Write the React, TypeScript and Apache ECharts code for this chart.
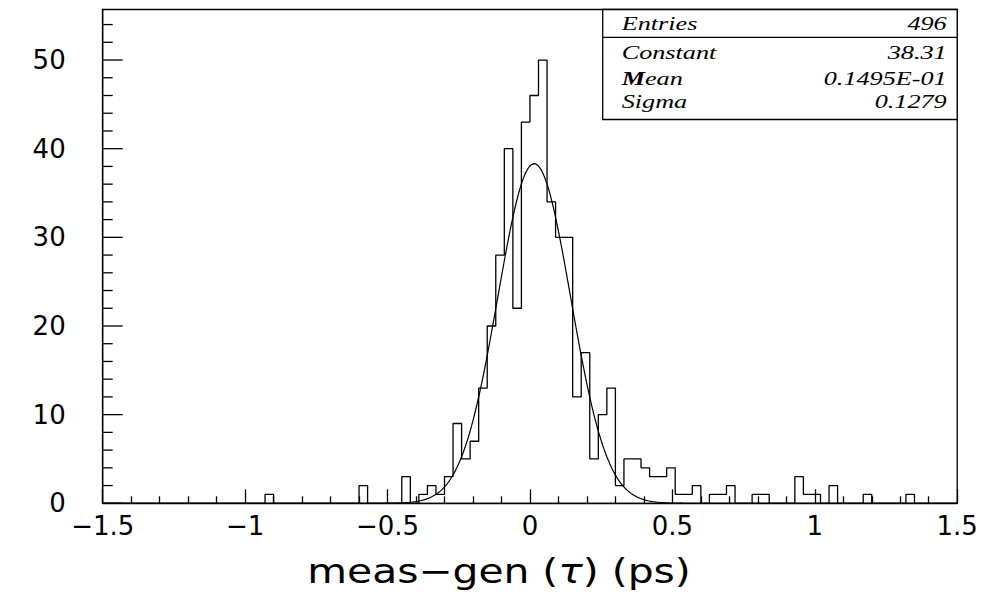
import React, { useEffect, useRef } from "react";
import * as echarts from "echarts";

// Histogram definition
const X_MIN = -1.5;
const X_MAX = 1.5;
const BIN_WIDTH = 0.03;
const X_INTERVAL = 0.5;
const Y_MIN = 0;
const Y_MAX = 55.7;
const Y_INTERVAL = 10;

// y-axis tick values (major ticks labelled, minor ticks unlabelled)
const Y_MAJOR_TICKS = [0, 10, 20, 30, 40, 50];
const Y_MINOR_TICKS = [2, 4, 6, 8, 12, 14, 16, 18, 22, 24, 26, 28, 32, 34, 36, 38, 42, 44, 46, 48, 52, 54];

// Bin contents (100 bins of 0.03 from -1.5 to 1.5)
const COUNTS: number[] = [
  0, 0, 0, 0, 0, 0, 0, 0, 0, 0,
  0, 0, 0, 0, 0, 0, 0, 0, 0, 1,
  0, 0, 0, 0, 0, 0, 0, 0, 0, 0,
  2, 0, 0, 0, 0, 3, 0, 1, 2, 1,
  3, 9, 5, 7, 13, 20, 28, 40, 22, 43,
  46, 50, 34, 30, 30, 12, 17, 5, 10, 13,
  2, 5, 5, 4, 3, 3, 4, 1, 1, 2,
  0, 1, 1, 2, 0, 0, 1, 1, 0, 0,
  0, 3, 1, 1, 0, 2, 0, 0, 0, 1,
  0, 0, 0, 0, 1, 0, 0, 0, 0, 0,
];

// Fit parameters (Gaussian)
const FIT_CONSTANT = 38.31;
const FIT_MEAN = 0.01495;
const FIT_SIGMA = 0.1279;

// Stats box
const STATS_LABELS = ["Entries", "Constant", "Mean", "Sigma"];
const STATS_VALUES = ["496", "38.31", "0.1495E-01", "0.1279"];

const X_TITLE = "meas\u2212gen (";
const X_TITLE_GREEK = "\u03c4";
const X_TITLE_END = ") (ps)";

export default function App() {
  const ref = useRef<HTMLDivElement>(null);

  useEffect(() => {
    if (!ref.current) return;
    const chart = echarts.init(ref.current, null, { renderer: "svg" });

    const histData: [number, number][] = COUNTS.map((c, i) => [
      +(X_MIN + i * BIN_WIDTH).toFixed(4),
      c,
    ]);
    histData.push([X_MAX, COUNTS[COUNTS.length - 1]]);

    const fitData: [number, number][] = [];
    for (let i = 0; i <= 600; i++) {
      const x = X_MIN + i * 0.005;
      const z = (x - FIT_MEAN) / FIT_SIGMA;
      fitData.push([x, FIT_CONSTANT * Math.exp(-0.5 * z * z)]);
    }

    const gridLeft = 102.7;
    const gridRight = 36.8;
    const gridTop = 9.5;
    const gridBottom = 95.7;
    const boxLeft = 602.7;
    const boxRight = 994 - gridRight;
    const boxTop = gridTop;
    const boxBottom = 119.5;
    const sepY = 37.3;
    const rowY = [24, 52.5, 79, 101.5];

    const textFont = {
      fontFamily: "Liberation Serif",
      fontStyle: "italic" as const,
      fontSize: 19,
    };
    const sx = 1.38;

    const statTexts: any[] = [];
    STATS_LABELS.forEach((lab, i) => {
      if (lab === "Mean") {
        statTexts.push({
          type: "text",
          id: "lab" + i,
          x: 621.7,
          y: rowY[i],
          scaleX: sx,
          z: 101,
          style: {
            text: "{b|M}{r|ean}",
            verticalAlign: "middle",
            align: "left",
            fill: "#000",
            ...textFont,
            rich: {
              b: { ...textFont, fontWeight: "bold", fill: "#000" },
              r: { ...textFont, fill: "#000" },
            },
          },
        });
      } else {
        statTexts.push({
          type: "text",
          id: "lab" + i,
          x: 621.7,
          y: rowY[i],
          scaleX: sx,
          z: 101,
          style: {
            text: lab,
            verticalAlign: "middle",
            align: "left",
            fill: "#000",
            ...textFont,
          },
        });
      }
      statTexts.push({
        type: "text",
        id: "val" + i,
        x: 946.7,
        y: rowY[i],
        scaleX: sx,
        z: 101,
        style: {
          text: STATS_VALUES[i],
          verticalAlign: "middle",
          align: "right",
          fill: "#000",
          ...textFont,
        },
      });
    });

    const titleFont = { fontFamily: "DejaVu Sans", fontSize: 34, fill: "#000" };

    const baseGraphic: any[] = [
      {
        type: "rect",
        id: "statsBox",
        z: 100,
        shape: { x: boxLeft, y: boxTop, width: boxRight - boxLeft, height: boxBottom - boxTop },
        style: { fill: "#fff", stroke: "#000", lineWidth: 1.3 },
      },
      {
        type: "line",
        id: "statsSep",
        z: 101,
        shape: { x1: boxLeft, y1: sepY, x2: boxRight, y2: sepY },
        style: { stroke: "#000", lineWidth: 1.3 },
      },
      ...statTexts,
      {
        type: "text",
        id: "xTitle",
        x: 499,
        y: 571,
        scaleX: 1.2,
        z: 101,
        style: {
          text: "{n|" + X_TITLE + "}{i|" + X_TITLE_GREEK + "}{n|" + X_TITLE_END + "}",
          align: "center",
          verticalAlign: "middle",
          ...titleFont,
          rich: {
            n: { ...titleFont },
            i: { ...titleFont, fontStyle: "italic" },
          },
        },
      },
    ];

    const option: any = {
      animation: false,
      backgroundColor: "#fff",
      grid: {
        left: gridLeft,
        right: gridRight,
        top: gridTop,
        bottom: gridBottom,
        show: true,
        borderColor: "#000",
        borderWidth: 1.3,
      },
      xAxis: {
        type: "value",
        min: X_MIN,
        max: X_MAX,
        interval: X_INTERVAL,
        axisLine: { show: true, onZero: false, lineStyle: { color: "#000", width: 1.3 } },
        axisTick: { show: true, inside: true, length: 14, lineStyle: { color: "#000", width: 1.3 } },
        minorTick: { show: true, splitNumber: 5, length: 7, lineStyle: { color: "#000", width: 1.3 } },
        splitLine: { show: false },
        minorSplitLine: { show: false },
        axisLabel: {
          color: "#000",
          fontFamily: "DejaVu Sans",
          fontSize: 26,
          margin: 10,
          formatter: (v: number) => (v === 0 ? "0" : String(v).replace("-", "\u2212")),
        },
      },
      yAxis: {
        type: "value",
        min: Y_MIN,
        max: Y_MAX,
        interval: Y_INTERVAL,
        axisLine: { show: true, onZero: false, lineStyle: { color: "#000", width: 1.3 } },
        axisTick: { show: false },
        splitLine: { show: false },
        axisLabel: {
          color: "#000",
          fontFamily: "DejaVu Sans",
          fontSize: 26,
          margin: 37,
          showMaxLabel: false,
        },
      },
      series: [
        {
          type: "line",
          name: "histogram",
          data: histData,
          step: "end",
          symbol: "none",
          lineStyle: { color: "#000", width: 1.3 },
        },
        {
          type: "line",
          name: "fit",
          data: fitData,
          symbol: "none",
          smooth: false,
          lineStyle: { color: "#000", width: 1.2 },
        },
      ],
      graphic: baseGraphic,
    };

    chart.setOption(option);

    // y-axis ticks, placed through the chart's own coordinate conversion
    const tickSpecs = [
      ...Y_MAJOR_TICKS.map((v) => ({ v, len: 20 })),
      ...Y_MINOR_TICKS.map((v) => ({ v, len: 10 })),
    ];
    const tickGraphics = tickSpecs.map((t, i) => {
      const p = chart.convertToPixel({ gridIndex: 0 }, [X_MIN, t.v]) as number[];
      return {
        type: "line",
        id: "ytick" + i,
        z: 200,
        shape: { x1: p[0], y1: p[1], x2: p[0] + t.len, y2: p[1] },
        style: { stroke: "#000", lineWidth: 1.3 },
      };
    });
    chart.setOption({ graphic: [...baseGraphic, ...tickGraphics] });

    return () => chart.dispose();
  }, []);

  return (
    <div
      ref={ref}
      style={{ position: "fixed", left: 0, top: 0, width: 994, height: 599, background: "#fff" }}
    />
  );
}
